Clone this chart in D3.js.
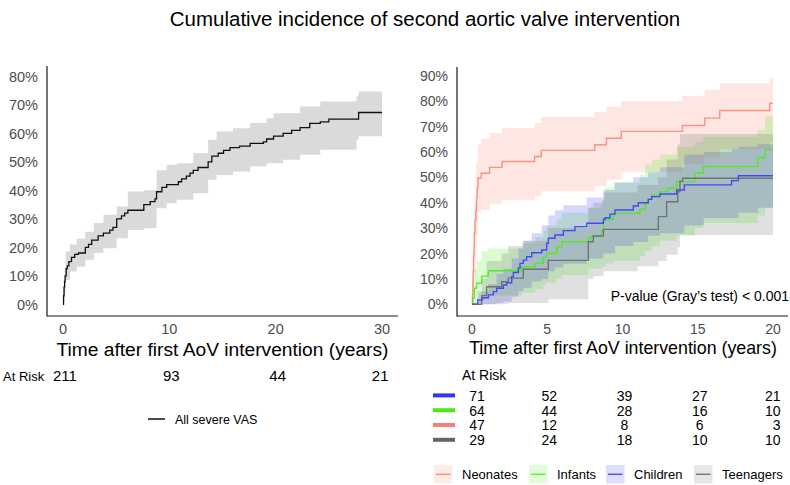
<!DOCTYPE html>
<html>
<head>
<meta charset="utf-8">
<script src="https://cdn.jsdelivr.net/npm/d3@7"></script>
<style>
  body { margin: 0; background: #fff; }
  text { font-family: "Liberation Sans", Arial, sans-serif; }
</style>
</head>
<body>
<svg id="chart" width="790" height="485"></svg>
<script>
// ---- data ----
// left panel: all severe VAS
const allTime = [0, 0.05, 0.1, 0.15, 0.2, 0.3, 0.4, 0.55, 0.8, 1.1, 1.45, 2.1, 2.4, 2.7, 3.3, 3.8, 4.4, 4.7, 5.05, 5.5, 5.8, 6.1, 7.6, 8.2, 8.65, 8.8, 9.3, 9.75, 10.85, 11.15, 11.6, 11.95, 12.25, 12.7, 13.65, 14.0, 14.6, 15.1, 15.7, 16.6, 17.6, 18.85, 19.15, 19.8, 20.7, 21.5, 22.3, 23.2, 24.2, 25.0, 27.8, 30];
const allInc  = [0, 3, 6, 8, 10, 12.5, 13.5, 15, 16.5, 17.5, 18, 20, 21, 22.5, 24, 25, 26, 27, 30, 31, 32, 33, 35, 36, 37, 39.5, 41, 42, 43, 44, 45, 46, 47, 48, 50, 52, 53, 54, 55, 55.5, 56.5, 57, 58, 59, 60, 61, 62, 63.5, 64, 65, 67.3, 67.3];
const allBandTime = [0, 0.05, 0.15, 0.25, 0.65, 1.3, 2.1, 2.9, 3.8, 5.05, 6.1, 7.6, 8.8, 9.75, 10.7, 12.25, 13.65, 14.45, 16, 17.6, 19.15, 19.8, 20.7, 22.3, 24.2, 27.6, 27.8, 30];
const allLower = [0, 1, 4, 8.5, 11.5, 13.2, 15.6, 18, 19.7, 23.2, 26.1, 26.7, 33.7, 35.5, 36.7, 39, 43.7, 45.4, 46.6, 48.4, 49.5, 49.5, 50.7, 52.5, 54.2, 57.7, 59, 59];
const allUpper = [0, 6, 13, 18.5, 21, 23, 25.5, 28.5, 31.4, 34.3, 39.6, 40, 47, 49, 49.5, 53, 57.7, 60.6, 61.8, 63.6, 65.3, 67, 67, 69.4, 71.2, 73, 74.7, 74.7];
const riskTimesLeft = [0, 10, 20, 30];
const riskLeft = [211, 93, 44, 21];
const xTicksLeft = [0, 10, 20, 30];
const yTicksLeft = [0, 0.1, 0.2, 0.3, 0.4, 0.5, 0.6, 0.7, 0.8];

// right panel: by age group
const groups = ["Neonates", "Infants", "Children", "Teenagers"];
const groupColors = ["#fa8072", "#44ee11", "#3333ff", "#666666"];

const neoTime = [0, 0.03, 0.06, 0.08, 0.1, 0.13, 0.16, 0.2, 0.25, 0.3, 0.35, 0.4, 0.62, 1.17, 2.0, 4.16, 4.6, 8.15, 8.93, 9.92, 13.98, 15.46, 16.46, 19.78, 20];
const neoInc  = [0, 4, 9, 13, 19, 23, 28, 33, 37, 42, 46, 49.7, 51.6, 53.9, 56.2, 58.2, 60.6, 62.8, 65.4, 68.1, 70.4, 73.3, 76.3, 79.2, 79.2];
const neoBandTime = [0, 0.03, 0.06, 0.1, 0.16, 0.25, 0.3, 0.4, 0.62, 1.17, 2.0, 4.16, 4.6, 8.15, 8.93, 9.92, 13.98, 15.46, 16.46, 19.78, 20];
const neoLower = [0, 0.5, 2, 5, 12, 22, 27, 36, 37.2, 39.6, 41, 42.5, 44.5, 46.5, 49, 52, 55, 58, 61, 64, 64];
const neoUpper = [0, 12, 20, 30, 40, 52, 56, 62.8, 65.2, 67.4, 69.4, 71.4, 73.7, 75.7, 77.9, 79.9, 82.1, 84.5, 86.9, 89.1, 89.1];

const infTime = [0, 0.05, 0.16, 0.31, 0.64, 1.09, 3.3, 4.2, 4.74, 4.96, 5.63, 5.96, 7.73, 7.95, 8.62, 8.73, 8.84, 9.39, 11.16, 11.5, 11.71, 11.94, 12.49, 13.0, 13.6, 14.82, 15.37, 18.98, 19.47, 20];
const infInc  = [0, 2.5, 6.3, 8.3, 11.1, 13.2, 14.8, 16.1, 18.5, 20.1, 22.7, 24.6, 26, 26.9, 29, 32.5, 33.5, 35.8, 37.4, 39.8, 41.3, 43, 44.3, 45.7, 48.3, 51.6, 54.2, 57.7, 61, 61];
const infBandTime = [0, 0.05, 0.16, 0.31, 0.64, 1.09, 3.3, 4.2, 4.74, 4.96, 5.63, 5.96, 7.73, 8.62, 8.84, 9.39, 11.16, 11.5, 11.94, 12.49, 13.6, 14.82, 15.37, 18.98, 19.47, 20];
const infLower = [0, 0, 0, 0.5, 2, 3.5, 4.5, 6, 7.5, 8.5, 10, 11.5, 14, 15, 16, 17, 19, 21, 23, 25, 27, 30, 32, 35, 38, 38];
const infUpper = [0, 9, 14, 17, 21, 22, 24, 26.5, 29, 31, 33.5, 36, 38, 41, 46, 48, 51, 55, 57, 59, 62, 64, 66, 68.5, 74, 74];

const chiTime = [0, 0.38, 0.69, 1.09, 1.42, 1.64, 2.08, 2.3, 2.64, 2.75, 3.08, 3.19, 3.41, 3.63, 3.97, 4.63, 4.96, 5.07, 5.51, 6.07, 6.84, 7.62, 8.73, 8.84, 9.17, 9.5, 10.72, 11.05, 11.71, 11.94, 12.49, 13.6, 14.11, 17.25, 17.7, 20];
const chiInc  = [0, 1.7, 2.6, 3.7, 5.0, 6.3, 7.6, 8.5, 10.9, 12.5, 14.2, 16.1, 17.4, 18.7, 20.3, 21.4, 24, 26, 27.3, 29, 30.6, 31.9, 33.5, 34.1, 35.5, 37.1, 38.7, 40, 41.3, 42.4, 43.4, 45, 47, 48.7, 50.6, 50.6];
const chiBandTime = [0, 0.38, 1.09, 1.64, 2.08, 2.64, 3.08, 3.41, 3.97, 4.63, 5.07, 5.51, 6.07, 7.62, 8.73, 9.5, 10.72, 11.71, 12.49, 14.11, 15.4, 17.25, 17.7, 19, 20];
const chiLower = [0, 0, 0, 0.5, 1, 3, 5, 6.5, 9, 10, 13, 14.5, 16, 18, 20, 23, 24.5, 27, 28, 31, 34, 34, 36, 38, 38];
const chiUpper = [0, 5, 8, 12, 14, 18, 22, 25, 28, 31, 35, 37, 39, 42, 45, 48, 50, 52, 54, 59, 60, 61, 62, 63, 63];

const teeTime = [0, 0.64, 0.97, 1.97, 2.41, 3.41, 5.07, 7.73, 8.06, 8.73, 12.38, 12.93, 13.67, 13.82, 14.0, 20];
const teeInc  = [0, 3.4, 6.9, 8.9, 10.3, 13.8, 17.3, 24.6, 26.9, 29.5, 34.5, 40.4, 44.3, 48.5, 49.6, 49.6];
const teeBandTime = [0, 0.64, 0.97, 1.97, 2.41, 3.41, 5.07, 7.73, 8.06, 8.73, 11.0, 12.38, 12.93, 13.67, 13.82, 20];
const teeLower = [0, 0, 0, 0, 0.5, 0.5, 2, 10, 11, 13, 15, 17, 19.5, 22.5, 27.3, 27.3];
const teeUpper = [0, 10, 17, 20, 23, 25, 30, 38, 40, 44, 47, 50, 57, 63, 67, 67];

const riskTimesRight = [0, 5, 10, 15, 20];
const riskChildren = [71, 52, 39, 27, 21];
const riskInfants = [64, 44, 28, 16, 10];
const riskNeonates = [47, 12, 8, 6, 3];
const riskTeenagers = [29, 24, 18, 10, 10];
const xTicksRight = [0, 5, 10, 15, 20];
const yTicksRight = [0, 0.1, 0.2, 0.3, 0.4, 0.5, 0.6, 0.7, 0.8, 0.9];

// ---- helpers ----
function toSteps(times, vals) {
    return times.map(function(t, i) { return {t: t, p: vals[i] / 100}; });
}
function toBand(times, lo, hi) {
    return times.map(function(t, i) { return {t: t, lo: lo[i] / 100, hi: hi[i] / 100}; });
}

let svg = d3.select("#chart");
svg.append("rect").attr("width", 790).attr("height", 485).attr("fill", "#fff");

svg.append("text")
    .attr("x", 425).attr("y", 26)
    .attr("text-anchor", "middle")
    .style("font-size", "20.5px")
    .attr("fill", "#000")
    .text("Cumulative incidence of second aortic valve intervention");

function drawAxes(x, y, xTicks, yTicks, box, opts) {
    let g = svg.append("g");
    // y tick labels
    g.selectAll(".ylab").data(yTicks).enter().append("text")
        .attr("x", box.left - 9)
        .attr("y", function(d) { return y(d); })
        .attr("dy", "0.36em")
        .attr("text-anchor", "end")
        .style("font-size", opts.tickSize + "px")
        .attr("fill", "#4d4d4d")
        .text(d3.format(".0%"));
    // x tick labels
    g.selectAll(".xlab").data(xTicks).enter().append("text")
        .attr("x", function(d) { return x(d); })
        .attr("y", 334)
        .attr("text-anchor", "middle")
        .style("font-size", opts.tickSize + "px")
        .attr("fill", "#4d4d4d")
        .text(function(d) { return d; });
    // axis lines
    g.append("line")
        .attr("x1", box.left).attr("x2", box.left)
        .attr("y1", box.top).attr("y2", box.bottom + 0.6)
        .attr("stroke", "#1a1a1a").attr("stroke-width", 1.2);
    g.append("line")
        .attr("x1", box.left).attr("x2", box.right)
        .attr("y1", box.bottom).attr("y2", box.bottom)
        .attr("stroke", "#1a1a1a").attr("stroke-width", 1.2);
    // axis title
    g.append("text")
        .attr("x", opts.titleX).attr("y", opts.titleY)
        .attr("text-anchor", "middle")
        .style("font-size", opts.titleSize + "px")
        .attr("fill", "#000")
        .text("Time after first AoV intervention (years)");
}

// ================= LEFT PANEL =================
let xL = d3.scaleLinear().domain([0, 30]).range([63, 382]);
let yL = d3.scaleLinear().domain([0, 0.8]).range([304.3, 76.3]);

let areaL = d3.area()
    .x(function(d) { return xL(d.t); })
    .y0(function(d) { return yL(d.lo); })
    .y1(function(d) { return yL(d.hi); })
    .curve(d3.curveStepAfter);
let lineL = d3.line()
    .x(function(d) { return xL(d.t); })
    .y(function(d) { return yL(d.p); })
    .curve(d3.curveStepAfter);

svg.append("path")
    .attr("d", areaL(toBand(allBandTime, allLower, allUpper)))
    .attr("fill", "#dadada");
svg.append("path")
    .attr("d", lineL(toSteps(allTime, allInc)))
    .attr("fill", "none").attr("stroke", "#111").attr("stroke-width", 1.3);

drawAxes(xL, yL, xTicksLeft, yTicksLeft, {left: 47, right: 398, top: 66, bottom: 316},
    {tickSize: 14.5, titleSize: 19.2, titleX: 222.5, titleY: 356});

// at risk, left
svg.append("text")
    .attr("x", 3).attr("y", 381)
    .style("font-size", "13px")
    .text("At Risk");
svg.selectAll(".riskL").data(riskLeft).enter().append("text")
    .attr("x", function(d, i) { return i == riskLeft.length - 1 ? 388.5 : xL(riskTimesLeft[i]) + 2; })
    .attr("y", 381)
    .attr("text-anchor", function(d, i) { return i == riskLeft.length - 1 ? "end" : "middle"; })
    .style("font-size", "15px")
    .text(function(d) { return d; });

// legend, left
svg.append("line")
    .attr("x1", 148).attr("x2", 165).attr("y1", 419).attr("y2", 419)
    .attr("stroke", "#111").attr("stroke-width", 1.5);
svg.append("text")
    .attr("x", 175).attr("y", 423.5)
    .style("font-size", "12.5px")
    .text("All severe VAS");

// ================= RIGHT PANEL =================
let xR = d3.scaleLinear().domain([0, 20]).range([472, 773]);
let yR = d3.scaleLinear().domain([0, 0.9]).range([304.3, 75.7]);

let areaR = d3.area()
    .x(function(d) { return xR(d.t); })
    .y0(function(d) { return yR(d.lo); })
    .y1(function(d) { return yR(d.hi); })
    .curve(d3.curveStepAfter);
let lineR = d3.line()
    .x(function(d) { return xR(d.t); })
    .y(function(d) { return yR(d.p); })
    .curve(d3.curveStepAfter);

let bands = [
    toBand(neoBandTime, neoLower, neoUpper),
    toBand(infBandTime, infLower, infUpper),
    toBand(chiBandTime, chiLower, chiUpper),
    toBand(teeBandTime, teeLower, teeUpper)
];
let curves = [
    toSteps(neoTime, neoInc),
    toSteps(infTime, infInc),
    toSteps(chiTime, chiInc),
    toSteps(teeTime, teeInc)
];

svg.selectAll(".band").data(bands).enter().append("path")
    .attr("d", areaR)
    .attr("fill", function(d, i) { return groupColors[i]; })
    .attr("fill-opacity", 0.2);

svg.selectAll(".curve").data(curves).enter().append("path")
    .attr("d", lineR)
    .attr("fill", "none")
    .attr("stroke", function(d, i) { return groupColors[i]; })
    .attr("stroke-opacity", 0.85)
    .attr("stroke-width", 1.4);

drawAxes(xR, yR, xTicksRight, yTicksRight, {left: 457, right: 788, top: 67, bottom: 316},
    {tickSize: 14, titleSize: 17.8, titleX: 623, titleY: 354});

svg.append("text")
    .attr("x", 789).attr("y", 300.5)
    .attr("text-anchor", "end")
    .style("font-size", "14px")
    .text("P-value (Gray\u2019s test) < 0.001");

// at risk, right (table order as printed)
let riskRows = [riskChildren, riskInfants, riskNeonates, riskTeenagers];
let riskColors = [groupColors[2], groupColors[1], groupColors[0], groupColors[3]];

svg.append("text")
    .attr("x", 462).attr("y", 380)
    .style("font-size", "14px")
    .text("At Risk");

riskRows.forEach(function(row, r) {
    let base = 400.7 + r * 14.8;
    svg.append("line")
        .attr("x1", 433).attr("x2", 455)
        .attr("y1", base - 5.3).attr("y2", base - 5.3)
        .attr("stroke", riskColors[r]).attr("stroke-width", 4);
    svg.selectAll(".riskR" + r).data(row).enter().append("text")
        .attr("x", function(d, i) { return i == row.length - 1 ? 780.5 : xR(riskTimesRight[i]) + (i == 0 ? 5 : 2); })
        .attr("y", base)
        .attr("text-anchor", function(d, i) { return i == row.length - 1 ? "end" : "middle"; })
        .style("font-size", "14px")
        .text(function(d) { return d; });
});

// bottom legend
let legendX = [434, 529, 606, 694];
let leg = svg.selectAll(".leg").data(groups).enter().append("g")
    .attr("transform", function(d, i) { return "translate(" + legendX[i] + ",465)"; });
leg.append("rect")
    .attr("width", 18.5).attr("height", 18.5)
    .attr("fill", function(d, i) { return groupColors[i]; })
    .attr("fill-opacity", 0.16);
leg.append("line")
    .attr("x1", 2).attr("x2", 16.5).attr("y1", 9.25).attr("y2", 9.25)
    .attr("stroke", function(d, i) { return groupColors[i]; })
    .attr("stroke-width", 1.2);
leg.append("text")
    .attr("x", 28).attr("y", 14)
    .style("font-size", "13px")
    .text(function(d) { return d; });
</script>
</body>
</html>
